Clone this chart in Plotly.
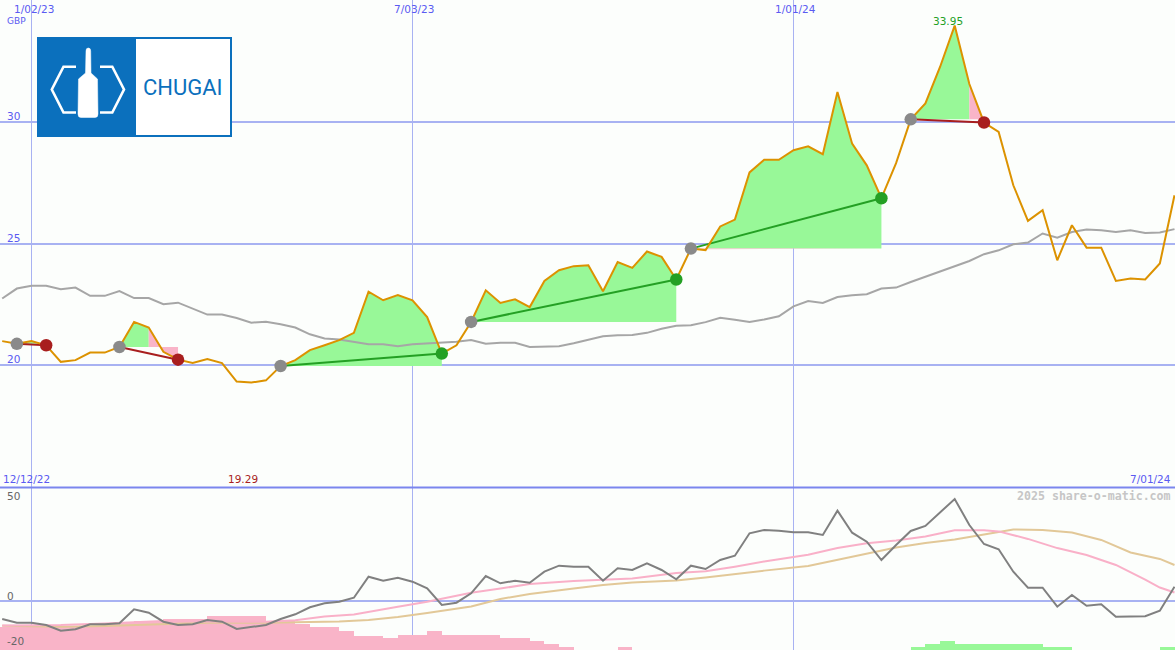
import numpy as np
import pandas as pd
import plotly.graph_objects as go

W, H = 1175, 650

# ---------------- data (weekly) ----------------
dates = pd.date_range("2022-12-19", periods=81, freq="7D")

price = [20.99, 20.88, 20.99, 20.82, 20.14, 20.21, 20.52, 20.52, 20.75, 21.78,
         21.55, 20.55, 20.23, 20.09, 20.26, 20.09, 19.33, 19.29, 19.38, 19.97,
         20.21, 20.62, 20.82, 21.03, 21.33, 23.02, 22.67, 22.88, 22.67, 21.98,
         20.48, 20.82, 21.78, 23.08, 22.56, 22.71, 22.39, 23.46, 23.90, 24.07,
         24.11, 23.04, 24.24, 24.00, 24.67, 24.45, 23.52, 24.79, 24.73, 25.70,
         25.98, 27.92, 28.44, 28.44, 28.83, 28.99, 28.67, 31.22, 29.10, 28.21,
         26.86, 28.30, 30.10, 30.75, 32.25, 33.95, 31.55, 29.97, 29.58, 27.39,
         25.93, 26.37, 24.31, 25.75, 24.83, 24.83, 23.46, 23.56, 23.52, 24.18,
         26.98]

ma_long = [22.74, 23.15, 23.26, 23.26, 23.12, 23.19, 22.85, 22.85, 23.05, 22.76,
           22.76, 22.51, 22.57, 22.33, 22.08, 22.08, 21.94, 21.75, 21.79, 21.68,
           21.55, 21.27, 21.10, 21.06, 20.97, 20.86, 20.86, 20.78, 20.86, 20.89,
           20.92, 20.97, 21.04, 20.88, 20.92, 20.92, 20.75, 20.78, 20.78, 20.90,
           21.05, 21.19, 21.23, 21.24, 21.33, 21.50, 21.62, 21.64, 21.77, 21.95,
           21.87, 21.78, 21.88, 22.01, 22.42, 22.64, 22.56, 22.80, 22.87, 22.92,
           23.15, 23.19, 23.42, 23.63, 23.83, 24.04, 24.28, 24.56, 24.72, 24.97,
           25.04, 25.41, 25.24, 25.47, 25.57, 25.54, 25.47, 25.54, 25.43, 25.45,
           25.59]

osc = [-8.39, -10.16, -10.16, -11.27, -14.0, -13.33, -10.93, -10.93, -10.45, -3.74,
       -5.37, -9.68, -11.27, -10.93, -8.87, -9.68, -13.18, -12.37, -11.27, -8.39,
       -6.14, -2.78, -0.86, -0.1, 1.82, 11.89, 9.97, 11.41, 9.49, 6.33,
       -1.68, -0.58, 3.93, 12.22, 8.72, 9.97, 9.01, 14.29, 17.16, 16.68,
       16.68, 9.97, 15.92, 15.10, 18.31, 15.10, 10.64, 17.16, 15.58, 19.89,
       21.96, 32.69, 34.28, 33.94, 33.17, 33.17, 31.88, 43.53, 32.98, 28.67,
       19.89, 27.09, 33.80, 36.19, 42.76, 49.14, 36.67, 27.56, 25.02, 14.29,
       6.62, 6.62, -2.49, 3.12, -2.01, -1.34, -7.29, -7.29, -7.09, -4.41,
       7.09]

sig_fast_idx = [0, 4, 7, 11, 14, 18, 20, 22, 24, 25, 27, 29, 32, 34, 36, 39, 41, 43, 46,
                48, 50, 52, 55, 57, 59, 61, 63, 65, 67, 68, 70, 72, 74, 76, 78, 79, 80]
sig_fast = [-11.5, -11.3, -10.5, -9.3, -9.6, -9.7, -9.0, -7.2, -6.2, -4.9, -2.5, -0.1, 4.2,
            6.2, 8.4, 9.8, 10.3, 11.0, 13.7, 14.5, 16.7, 19.2, 22.4, 25.6, 27.9, 29.2, 31.2,
            34.1, 34.1, 33.6, 30.0, 25.6, 22.3, 17.5, 10.5, 6.7, 4.3]

sig_slow_idx = [0, 4, 7, 14, 18, 23, 25, 27, 29, 32, 34, 36, 39, 41, 43, 46, 48, 50, 52,
                55, 57, 59, 61, 63, 65, 67, 69, 71, 73, 75, 77, 79, 80]
sig_slow = [-11.6, -12.1, -11.7, -10.2, -10.2, -9.6, -8.9, -7.4, -5.5, -2.4, 1.2, 3.6, 6.2,
            7.9, 9.1, 10.1, 11.5, 13.2, 14.8, 17.0, 19.9, 22.8, 25.9, 28.0, 29.7, 32.1, 34.5,
            34.3, 33.1, 29.5, 23.5, 20.4, 17.5]

hist_dates = pd.date_range("2022-12-12", periods=82, freq="7D")
hist = [-11.2,
        -11.2, -12.0, -12.0, -11.5, -11.5, -11.5, -11.5, -13.1, -13.1, -14.0,
        -14.0, -14.9, -14.9, -14.9, -16.4, -16.4, -16.4, -16.4, -14.0, -14.0,
        -12.5, -10.9, -10.9, -9.1, -6.9, -6.9, -5.6, -7.2, -7.2, -9.1,
        -7.2, -7.2, -7.2, -7.2, -5.9, -5.9, -4.3, -2.9, -1.6, 0,
        0, 0, -1.6, 0, 0, 0, 0, 0, 0, 0,
        0, 0, 0, 0, 0, 0, 0, 0, 0, 0,
        0, 0, 1.6, 2.9, 4.3, 2.9, 2.9, 2.9, 2.9, 2.9,
        2.9, 1.6, 1.6, 0, 0, 0, 0, 0, 0, 1.6,
        1.6]

trade_entry = [1, 8, 19, 32, 47, 62]
trade_exit = [3, 12, 30, 46, 60, 67]
trade_win = [False, False, True, True, True, False]
trade_pink_from = [None, 10, None, None, None, 66]

x_ticks = ["2023-01-02", "2023-07-03", "2024-01-01"]
x_tick_text = ["1/02/23", "7/03/23", "1/01/24"]
y_ticks = [20, 25, 30]
max_label = "33.95"
min_label = "19.29"

# ---------------- style ----------------
BG = "#fcfefc"
GRID = "#a8b2f2"
SEP = "#7b86ee"
LBL = "#5a5af2"
ORANGE = "#dc9200"
GREEN_FILL = "#98f898"
PINK_FILL = "#f9b4c8"
GREEN_D = "#24a024"
RED_D = "#a81e1e"
FONT = "DejaVu Sans"

Y1 = [15, 35]
Y2 = [-23.25, 54.4]
XR = ["2022-12-17 22:50", "2024-07-01 05:45"]

fig = go.Figure()

# ---------- trade fill areas ----------
t = dates.values.astype("datetime64[s]").astype("int64").astype(float)
p = np.array(price)


def dense(i0, i1, n=30):
    ts, ps = [], []
    for k in range(i0, i1):
        for j in range(n):
            f = j / n
            ts.append(t[k] + (t[k + 1] - t[k]) * f)
            ps.append(p[k] + (p[k + 1] - p[k]) * f)
    ts.append(t[i1])
    ps.append(p[i1])
    return np.array(ts), np.array(ps)


def poly(ts, top, bot, color):
    xs = pd.to_datetime(np.concatenate([ts, ts[::-1]]), unit="s")
    ys = np.concatenate([top, bot[::-1]])
    fig.add_trace(go.Scatter(x=xs, y=ys, mode="lines", fill="toself", fillcolor=color,
                             line=dict(width=0), hoverinfo="skip", showlegend=False))


for e, x_, pf in zip(trade_entry, trade_exit, trade_pink_from):
    level = p[e]
    g_end = pf if pf is not None else x_
    ts, ps = dense(e, g_end)
    lv = np.full_like(ps, level)
    poly(ts, np.maximum(ps, lv), lv, GREEN_FILL)
    poly(ts, lv, np.minimum(ps, lv), PINK_FILL)
    if pf is not None:
        ts2, ps2 = dense(pf, x_)
        lv2 = np.full_like(ps2, level)
        poly(ts2, np.maximum(ps2, lv2), np.minimum(ps2, lv2), PINK_FILL)

# ---------- long MA ----------
fig.add_trace(go.Scatter(x=dates, y=ma_long, mode="lines", line=dict(color="#a6a6a6", width=2),
                         hoverinfo="skip", showlegend=False))

# ---------- trade lines ----------
for e, x_, w in zip(trade_entry, trade_exit, trade_win):
    fig.add_trace(go.Scatter(x=[dates[e], dates[x_]], y=[price[e], price[x_]], mode="lines",
                             line=dict(color=GREEN_D if w else RED_D, width=2),
                             hoverinfo="skip", showlegend=False))

# ---------- price ----------
fig.add_trace(go.Scatter(x=dates, y=price, mode="lines", line=dict(color=ORANGE, width=2),
                         showlegend=False))

# ---------- signal markers ----------
fig.add_trace(go.Scatter(x=[dates[e] for e in trade_entry], y=[price[e] for e in trade_entry],
                         mode="markers", marker=dict(color="#8a8a8a", size=12.5),
                         hoverinfo="skip", showlegend=False))
fig.add_trace(go.Scatter(x=[dates[x_] for x_ in trade_exit], y=[price[x_] for x_ in trade_exit],
                         mode="markers",
                         marker=dict(color=[GREEN_D if w else RED_D for w in trade_win], size=12.5),
                         hoverinfo="skip", showlegend=False))

# ---------- lower panel ----------
bar_x = [d for d, v in zip(hist_dates, hist) if v != 0]
bar_v = [v for v in hist if v != 0]
fig.add_trace(go.Bar(x=bar_x, y=[abs(v) for v in bar_v], base=Y2[0],
                     width=7 * 86400000, offset=0,
                     marker=dict(color=[PINK_FILL if v < 0 else GREEN_FILL for v in bar_v],
                                 line=dict(width=0)),
                     xaxis="x2", yaxis="y2", hoverinfo="skip", showlegend=False))
fig.add_trace(go.Scatter(x=[dates[i] for i in sig_slow_idx], y=sig_slow, mode="lines",
                         line=dict(color="#e2c898", width=2), xaxis="x2", yaxis="y2",
                         hoverinfo="skip", showlegend=False))
fig.add_trace(go.Scatter(x=[dates[i] for i in sig_fast_idx], y=sig_fast, mode="lines",
                         line=dict(color="#f9b0c8", width=2), xaxis="x2", yaxis="y2",
                         hoverinfo="skip", showlegend=False))
fig.add_trace(go.Scatter(x=dates, y=osc, mode="lines", line=dict(color="#808080", width=2),
                         xaxis="x2", yaxis="y2", hoverinfo="skip", showlegend=False))

# ---------- axes ----------
xcommon = dict(range=XR, type="date", tickvals=x_ticks, showticklabels=False, ticks="",
               showgrid=True, gridcolor=GRID, gridwidth=1, zeroline=False, showline=False,
               fixedrange=True)
fig.update_layout(
    width=W, height=H, margin=dict(l=0, r=0, t=0, b=0),
    paper_bgcolor=BG, plot_bgcolor=BG, showlegend=False, bargap=0,
    xaxis=dict(domain=[0, 1], anchor="y", **xcommon),
    xaxis2=dict(domain=[0, 1], anchor="y2", matches="x", **xcommon),
    yaxis=dict(domain=[1 - 487 / H, 1], range=Y1, tickvals=y_ticks, showticklabels=False,
               ticks="", showgrid=True, gridcolor=GRID, gridwidth=2, zeroline=False,
               showline=False, fixedrange=True),
    yaxis2=dict(domain=[0, 1 - 488 / H], range=Y2, tickvals=[0], showticklabels=False,
                ticks="", showgrid=True, gridcolor=GRID, gridwidth=2, zeroline=False,
                showline=False, fixedrange=True),
)


# ---------- annotations ----------
def ann(text, x, y, color, size, xanchor="center", family=FONT):
    return dict(text=text, x=x / W, y=1 - y / H, xref="paper", yref="paper",
                xanchor=xanchor, yanchor="middle", showarrow=False,
                font=dict(color=color, size=size, family=family))


x_tick_px = [33.5, 413.5, 795]
annots = [ann(txt, xp, 9, LBL, 10.5) for txt, xp in zip(x_tick_text, x_tick_px)]
annots += [ann("GBP", 5, 21, LBL, 9, "left")]
annots += [ann(str(v), 5, 365.25 - (v - 20) * 24.35 - 6, LBL, 10.5, "left") for v in y_ticks]
annots += [
    ann("12/12/22", 1, 479, LBL, 10.5, "left"),
    ann(min_label, 243, 479, RED_D, 10.5),
    ann("7/01/24", 1173, 479, LBL, 10.5, "right"),
    ann(max_label, 948, 21, GREEN_D, 10.5),
    ann("50", 5, 496, "#666666", 10.5, "left"),
    ann("0", 5, 596, "#666666", 10.5, "left"),
    ann("-20", 5, 641, "#666666", 10.5, "left"),
    ann("<b>2025 share-o-matic.com</b>", 1173, 496, "#c6c6c6", 11.6, "right",
        "DejaVu Sans Mono"),
    ann("CHUGAI", 182.5, 87, "#0b70bd", 22, "center", "Roboto"),
]
fig.update_layout(annotations=annots)


# ---------- shapes: separator + logo ----------
def P(x, y):
    return f"{x / W:.5f},{1 - y / H:.5f}"


BLUE = "#0b70bd"
shapes = [
    dict(type="line", xref="paper", yref="paper", x0=0, x1=1, y0=1 - 487.5 / H,
         y1=1 - 487.5 / H, line=dict(color=SEP, width=2), layer="above"),
    dict(type="rect", xref="paper", yref="paper", x0=38 / W, x1=231 / W,
         y0=1 - 136 / H, y1=1 - 38 / H, fillcolor="white", line=dict(color=BLUE, width=2),
         layer="above"),
    dict(type="rect", xref="paper", yref="paper", x0=38 / W, x1=136 / W,
         y0=1 - 136 / H, y1=1 - 38 / H, fillcolor=BLUE, line=dict(width=0), layer="above"),
    dict(type="path", xref="paper", yref="paper",
         path=f"M{P(76, 66.7)} L{P(63.5, 66.7)} L{P(51.8, 89.5)} L{P(63.5, 112.5)} L{P(76, 112.5)}",
         line=dict(color="white", width=2.6), layer="above"),
    dict(type="path", xref="paper", yref="paper",
         path=f"M{P(100, 66.7)} L{P(112.3, 66.7)} L{P(124, 89.5)} L{P(112.3, 112.5)} L{P(100, 112.5)}",
         line=dict(color="white", width=2.6), layer="above"),
    dict(type="path", xref="paper", yref="paper",
         path=(f"M{P(86, 51)} Q{P(86, 48)} {P(88.3, 48)} Q{P(90.7, 48)} {P(90.7, 51)} "
               f"L{P(91, 73)} L{P(97.5, 79)} L{P(98, 114)} Q{P(98, 117.5)} {P(95, 117.5)} "
               f"L{P(81, 117.5)} Q{P(78, 117.5)} {P(78, 114)} L{P(78.5, 79)} L{P(85.5, 73)} Z"),
         fillcolor="white", line=dict(color="white", width=0.5), layer="above"),
]
fig.update_layout(shapes=shapes)

fig.write_html("out.html", config={"displayModeBar": False},
               post_script="document.body.style.margin='0';document.body.style.overflow='hidden';")
